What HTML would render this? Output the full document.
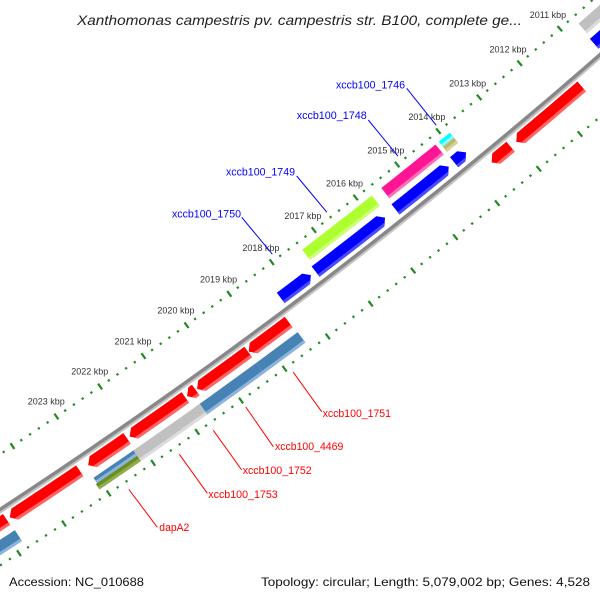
<!DOCTYPE html>
<html><head><meta charset="utf-8">
<style>
html,body{margin:0;padding:0;background:#fff;}
svg{display:block;}
text{font-family:"Liberation Sans","DejaVu Sans",sans-serif;}
</style></head>
<body>
<svg id="map" width="600" height="600" viewBox="0 0 600 600" xmlns="http://www.w3.org/2000/svg">
  <rect width="600" height="600" fill="#fff"/>
  <g id="ticks"></g>
  <g id="backbone"></g>
  <g id="features"></g>
  <g id="labels"></g>
  <text x="77" y="25" font-size="14" font-style="italic" fill="#222" textLength="445" lengthAdjust="spacingAndGlyphs">Xanthomonas campestris pv. campestris str. B100, complete ge...</text>
  <text x="9" y="586" font-size="12" fill="#111" textLength="135" lengthAdjust="spacingAndGlyphs">Accession: NC_010688</text>
  <text x="261" y="586" font-size="12" fill="#111" textLength="329" lengthAdjust="spacingAndGlyphs">Topology: circular; Length: 5,079,002 bp; Genes: 4,528</text>
</svg>
<script>
// ---- data ----
const featStart  = [2009.3,2009.3,2013.85,2014.27,2015.80,2017.56,2014.20,2015.74,2013.85,2013.85,2011.40,2013.14,2018.42,2019.36,2020.57,2020.81,2022.14,2023.21,2024.85,2018.40,2019.36,2020.66,2022.17,2022.17,2024.83];
const featEnd    = [2010.70,2010.67,2014.14,2015.55,2017.45,2018.27,2015.51,2017.40,2014.12,2014.12,2013.00,2013.60,2019.35,2020.54,2020.77,2022.08,2023.02,2024.78,2026.5,2019.36,2020.66,2022.17,2023.07,2023.10,2026.5];
const featTier   = [-1,-2,-1,-1,-1,-1,-2,-2,-2,-2,1,1,1,1,1,1,1,1,1,2,2,2,2,2,2];
const featHead   = [1,0,1,1,1,1,0,0,0,0,-1,-1,-1,-1,-1,-1,-1,-1,-1,0,0,0,0,0,0];
const featHalf   = [0,0,0,0,0,0,0,0,-1,1,0,0,0,0,0,0,0,0,0,0,0,0,-1,1,0];
const featColor  = ["#0000ff","#c0c0c0","#0000ff","#0000ff","#0000ff","#0000ff","#ff1493","#adff2f","#00ffff","#bdb76b","#ff0000","#ff0000","#ff0000","#ff0000","#ff0000","#ff0000","#ff0000","#ff0000","#ff0000","#4682b4","#4682b4","#c0c0c0","#4682b4","#6b8e23","#4682b4"];
const featLight  = ["#4a4aff","#dcdcdc","#4a4aff","#4a4aff","#4a4aff","#4a4aff","#ff6eb4","#ccff77","#88ffff","#d8d29a","#ff6464","#ff6464","#ff6464","#ff6464","#ff6464","#ff6464","#ff6464","#ff6464","#ff6464","#8cb4dc","#8cb4dc","#dcdcdc","#8cb4dc","#8fae4a","#8cb4dc"];
const tickLabels = [2011,2012,2013,2014,2015,2016,2017,2018,2019,2020,2021,2022,2023];
const labelNames = ["xccb100_1746","xccb100_1748","xccb100_1749","xccb100_1750","xccb100_1751","xccb100_4469","xccb100_1752","xccb100_1753","dapA2"];
const labelKbp   = [2013.96,2014.89,2016.6,2017.9,2018.91,2020.0,2020.74,2021.51,2022.65];
const labelSide  = [-1,-1,-1,-1,1,1,1,1,1];

// ---- geometry ----
const CX=-2960, CY=-4019, R=5410;
const A0=48.99, AK=0.566;
function ang(k){return (A0+(k-2011)*AK)*Math.PI/180;}
function pt(k,r){const a=ang(k);return [CX+r*Math.cos(a), CY+r*Math.sin(a)];}
const NS="http://www.w3.org/2000/svg";
function mk(tag,attrs,parent){const e=document.createElementNS(NS,tag);for(const k in attrs)e.setAttribute(k,attrs[k]);parent.appendChild(e);return e;}
function arcPts(k1,k2,r,n){const out=[];for(let i=0;i<=n;i++){out.push(pt(k1+(k2-k1)*i/n,r));}return out;}
function poly(points){return points.map(p=>p[0].toFixed(2)+","+p[1].toFixed(2)).join(" ");}

// backbone
const bb=document.getElementById('backbone');
const bb1=mk('polyline',{points:poly(arcPts(2008,2027,R+2.5,60)),fill:'none',stroke:'#c4c4c4','stroke-width':2.5},bb);


const bb2=mk('polyline',{points:poly(arcPts(2008,2027,R,60)),fill:'none',stroke:'#888','stroke-width':3.5},bb);



// ticks
const tg=document.getElementById('ticks');
const ringR=[R-46,R+47];
for(let i=2008*5;i<=2027*5;i++){
  const k=i/5; const major=(i%5===0);
  for(const rr of ringR){
    const len=major?7:2.2;
    const p1=pt(k,rr-len/2), p2=pt(k,rr+len/2);
    const t=mk('line',{x1:p1[0],y1:p1[1],x2:p2[0],y2:p2[1],stroke:'#1f8a1f','stroke-width':major?2.2:2.2},tg);
    
    
  }
}
tickLabels.forEach(k=>{
  const p=pt(k,R-64);
  const t=mk('text',{x:p[0],y:p[1]+3,'font-size':9,'text-anchor':'middle',fill:'#333'},tg);
  t.textContent=k+" kbp";
  
  
});

// features
const fg=document.getElementById('features');
const TIER={'-2':R-31,'-1':R-12,'1':R+12,'2':R+32};
const HW=6.5, HEAD=0.115;
featStart.forEach((s,i)=>{
  const e=featEnd[i]; const c=TIER[String(featTier[i])];
  let r1=c-HW, r2=c+HW;
  if(featHalf[i]===-1){r2=c;} else if(featHalf[i]===1){r1=c;}
  let b1=s,b2=e;
  if(featHead[i]===1) b1=s+HEAD; if(featHead[i]===-1) b2=e-HEAD;
  const n=Math.max(4,Math.ceil((b2-b1)*6));
  let ptsArr=arcPts(b1,b2,r1,n);
  if(featHead[i]===-1) ptsArr.push(pt(e,(r1+r2)/2));
  ptsArr=ptsArr.concat(arcPts(b2,b1,r2,n));
  if(featHead[i]===1) ptsArr.push(pt(s,(r1+r2)/2));
  const g=mk('g',{},fg);
  
  
  mk('polygon',{points:poly(ptsArr),fill:featColor[i]},g);
  // light strip along outer side
  const ls=r2-3;
  let sp=arcPts(b1,b2,ls,n);
  if(featHead[i]===-1) sp.push(pt(e-HEAD*((r2-ls)/(r2-(r1+r2)/2)),ls));
  sp=sp.concat(arcPts(b2,b1,r2,n));
  if(featHead[i]===1) sp.push(pt(s+HEAD*((r2-ls)/(r2-(r1+r2)/2)),ls));
  mk('polygon',{points:poly(sp),fill:featLight[i]},g);
});

// labels
const lg=document.getElementById('labels');
const labelX=[336,296.7,226,172,322.7,275,242.7,208.3,159.3];
const labelY=[88.5,119,175.5,217.5,417,450,474,498,531];
const labelW=[69,70,69,69,68.3,68.3,69,69.4,30];
const lineEnd=[[406.7,88.3],[368.3,120],[296.7,176],[241.7,217.3],[321.7,411.7],[273.3,446.7],[241.7,470],[207.3,493.3],[157.3,527.3]];
labelNames.forEach((nm,i)=>{
  const col=labelSide[i]<0?'#0000ff':'#ff0000';
  const p=pt(labelKbp[i],labelSide[i]<0?R-52:R+55);
  const l=mk('line',{x1:p[0],y1:p[1],x2:lineEnd[i][0],y2:lineEnd[i][1],stroke:col,'stroke-width':1},lg);
  
  
  const t=mk('text',{x:labelX[i],y:labelY[i],'font-size':11,fill:col,textLength:labelW[i],lengthAdjust:'spacingAndGlyphs'},lg);
  t.textContent=nm;
  
  
});
</script>
</body></html>
